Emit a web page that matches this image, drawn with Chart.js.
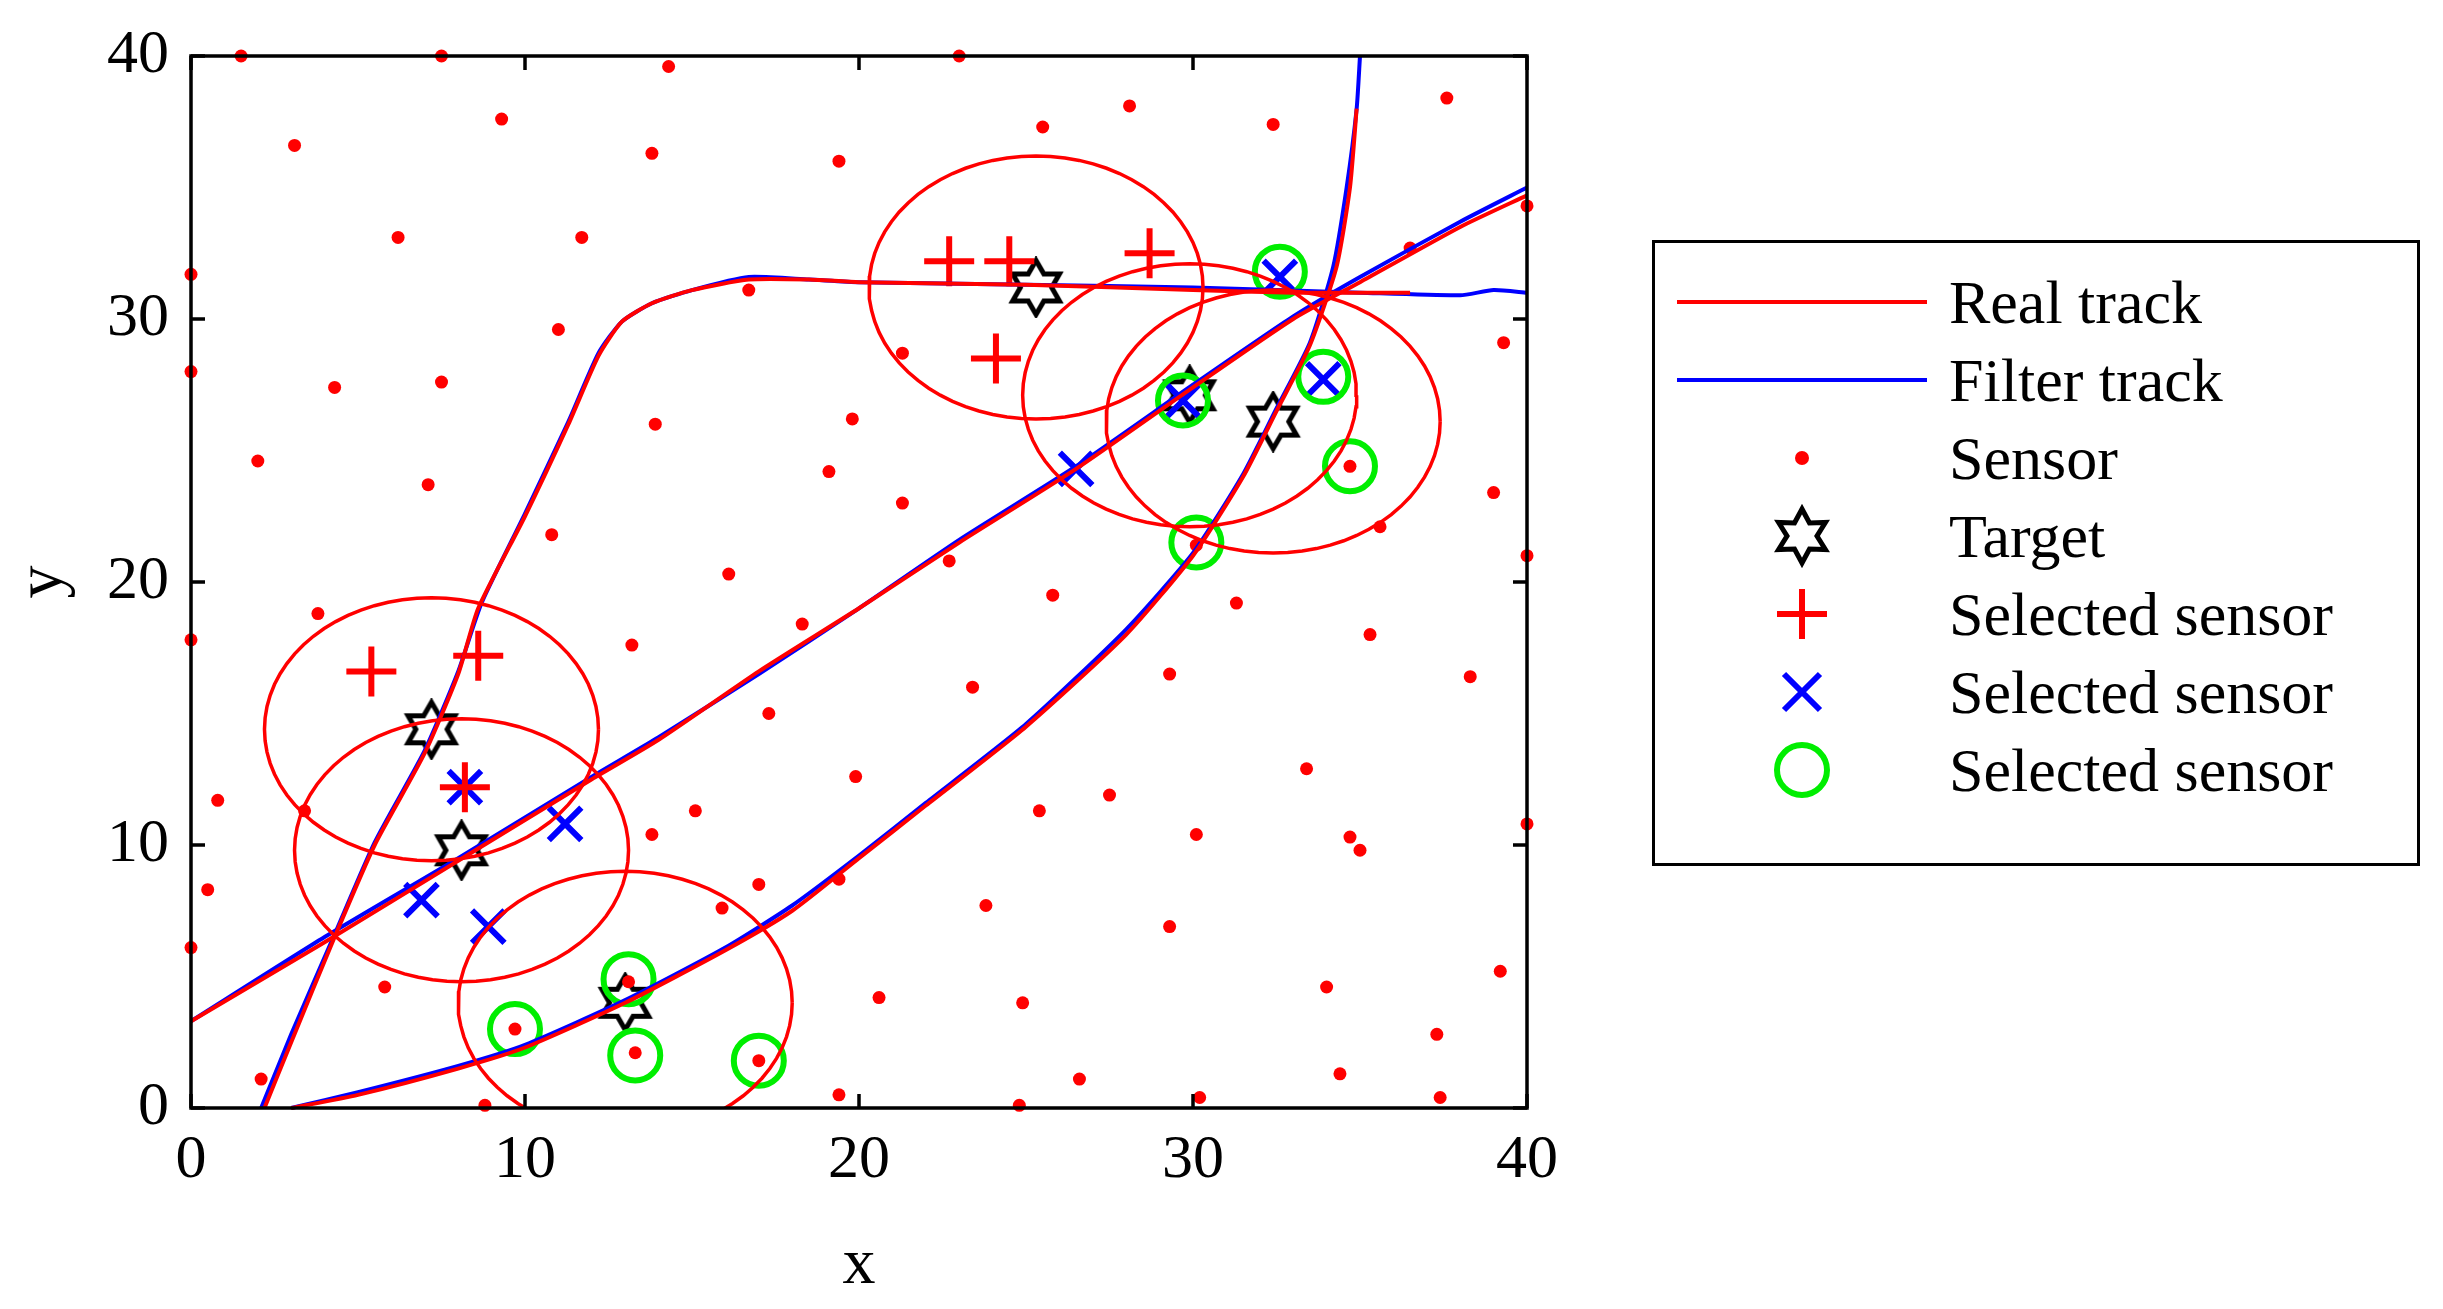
<!DOCTYPE html>
<html>
<head>
<meta charset="utf-8">
<script src="https://cdn.jsdelivr.net/npm/chart.js@4.4.1/dist/chart.umd.min.js"></script>
<style>
  body { margin: 0; background: #fff; font-family: "Liberation Serif", serif; }
  #wrap { position: absolute; left: 0; top: 0; width: 2443px; height: 1309px; }
  #legend { position: absolute; left: 1652px; top: 240px; width: 768px; height: 626px;
            border: 3px solid #000; box-sizing: border-box; padding-top: 20px; }
  .row { display: flex; align-items: center; height: 78px; font-size: 62px; color: #000; }
  .row svg { width: 250px; height: 78px; margin-left: 22px; margin-right: 22px; }
</style>
</head>
<body>
<div id="wrap"><canvas id="c" width="2443" height="1309"></canvas></div>
<div id="legend"></div>
<script>
// sensor positions
const sensorX = [1.5,7.5,23,14.3,9.3,3.1,28.1,25.5,32.4,37.6,19.4,13.8,6.2,11.7,0,40,36.5,0,39.3,11,16.7,7.5,4.3,21.3,13.9,19.8,2,7.1,19.1,21.3,34.7,39,35.6,10.8,30.1,40,16.1,22.7,25.8,31.3,3.8,18.3,0,13.2,35.3,29.3,38.3,23.4,17.3,33.4,19.9,27.5,25.4,15.1,0.8,3.4,13.8,30.1,34.7,35,40,0.5,17,19.4,23.8,15.9,29.3,0,5.8,13.1,34,39.2,20.6,24.9,9.7,13.3,17,37.3,2.1,26.6,34.4,19.4,30.2,37.4,8.8,24.8];
const sensorY = [40,40,40,39.6,37.6,36.6,38.1,37.3,37.4,38.4,36,36.3,33.1,33.1,31.7,34.3,32.7,28,29.1,29.6,31.1,27.6,27.4,28.7,26,26.2,24.6,23.7,24.2,23,24.4,23.4,22.1,21.8,21.4,21,20.3,20.8,19.5,19.2,18.8,18.4,17.8,17.6,18,16.5,16.4,16,15,12.9,12.6,11.9,11.3,11.3,11.7,11.3,10.4,10.4,10.3,9.8,10.8,8.3,8.5,8.7,7.7,7.6,6.9,6.1,4.6,4.8,4.6,5.2,4.2,4,3,2.1,1.8,2.8,1.1,1.1,1.3,0.5,0.4,0.4,0.1,0.1];

const targetX = [7.2,8.1,13,25.3,29.9,32.4];
const targetY = [14.4,9.8,4,31.2,27.1,26.1];
const circleR = 5;

const plusX = [5.4,8.6,8.2,22.7,24.5,28.7,24.1];
const plusY = [16.6,17.2,12.2,32.2,32.2,32.5,28.5];
const crossX = [8.2,11.2,6.9,8.9,26.5,29.7,32.6,33.9];
const crossY = [12.2,10.8,7.9,6.9,24.3,26.9,31.6,27.7];
const ringX = [9.7,13.1,13.3,17,29.7,32.6,33.9,34.7,30.1];
const ringY = [3,4.9,2,1.8,26.9,31.8,27.8,24.4,21.5];

// tracks
const realA = [[2.2,0],[3,2.5],[4.3,6.5],[5.5,10],[7,13.5],[8,16.5],[8.6,19],[10,22.5],[11.3,26],[12.2,28.6],[12.9,29.9],[13.8,30.6],[15,31.1],[16.7,31.5],[18.5,31.5],[20,31.4],[25,31.3],[30,31.1],[33,31],[36.5,31]];
const filtA = [[2.1,0],[3,2.8],[4.3,6.6],[5.5,10.1],[7,13.6],[8,16.6],[8.7,19.2],[10,22.6],[11.3,26.1],[12.2,28.7],[12.9,29.9],[13.8,30.6],[15,31.1],[16.7,31.6],[18.5,31.5],[20,31.4],[25,31.3],[30,31.2],[35,31],[38,30.9],[39,31.1],[40,31]];
const realB = [[0,3.3],[4,6.3],[8,9.4],[12,12.5],[14,14],[17,16.6],[20,19],[23,21.5],[26.5,24.3],[30,27.4],[33,30],[35,31.4],[38,33.5],[40,34.7]];
const filtB = [[0,3.3],[4,6.5],[8,9.5],[12,12.6],[14,14.1],[17,16.5],[20,19],[23,21.6],[26.5,24.4],[30,27.5],[33,30.1],[35,31.6],[38,33.7],[40,35]];
const realC = [[3,0],[5,0.5],[8,1.5],[10,2.3],[13,4],[16,6],[18,7.5],[20,9.5],[22,11.5],[25,14.5],[28,18],[30,21],[31.5,24],[32.5,26.5],[33.5,29],[34.3,32],[34.7,35],[34.9,38]];
const filtC = [[3,0],[5,0.6],[8,1.6],[10,2.4],[13,4.1],[16,6.1],[18,7.7],[20,9.6],[22,11.6],[25,14.6],[28,18.2],[30,21.1],[31.5,24.1],[32.5,26.6],[33.5,29.1],[34.2,32],[34.6,35],[34.9,38],[35,40]];

function pts(arr) { return arr.map(p => ({ x: p[0], y: p[1] })); }
function ring(cx, cy) {
    const out = [];
    for (let i = 0; i <= 72; i++) {
        const a = i / 72 * 2 * Math.PI;
        out.push({ x: cx + circleR * Math.cos(a), y: cy + circleR * Math.sin(a) });
    }
    return out;
}
function xy(xs, ys) { return xs.map((x, i) => ({ x, y: ys[i] })); }

// six-pointed star marker
function hexagram(size) {
    const cv = document.createElement('canvas');
    cv.width = size; cv.height = size;
    const g = cv.getContext('2d');
    const c = size / 2, R = size / 2 - 4, r = R * 0.58;
    g.beginPath();
    for (let i = 0; i < 12; i++) {
        const a = -Math.PI / 2 + i * Math.PI / 6;
        const rr = i % 2 === 0 ? R : r;
        const px = c + rr * Math.cos(a), py = c + rr * Math.sin(a);
        i === 0 ? g.moveTo(px, py) : g.lineTo(px, py);
    }
    g.closePath();
    g.lineWidth = 5; g.strokeStyle = '#000'; g.stroke();
    return cv;
}
const starImg = hexagram(62);

const lineDs = (data, color) => ({ type: 'line', data, borderColor: color, borderWidth: 4, pointRadius: 0, fill: false, tension: 0.2, clip: 2 });

const datasets = [];
targetX.forEach((x, i) => datasets.push({ type: 'line', data: ring(x, targetY[i]), borderColor: '#ff0000', borderWidth: 3.5, pointRadius: 0, fill: false, tension: 0, clip: 0 }));
datasets.push(lineDs(pts(realA), '#ff0000'), lineDs(pts(realB), '#ff0000'), lineDs(pts(realC), '#ff0000'));
datasets.push(lineDs(pts(filtA), '#0000ff'), lineDs(pts(filtB), '#0000ff'), lineDs(pts(filtC), '#0000ff'));
datasets.push({ data: xy(sensorX, sensorY), pointStyle: 'circle', pointRadius: 6.5, backgroundColor: '#ff0000', borderWidth: 0, clip: false });
datasets.push({ data: xy(ringX, ringY), pointStyle: 'circle', pointRadius: 25, backgroundColor: 'transparent', borderColor: '#00ee00', borderWidth: 6, clip: false });
datasets.push({ data: xy(plusX, plusY), pointStyle: 'cross', pointRadius: 25, borderColor: '#ff0000', borderWidth: 6 });
datasets.push({ data: xy(crossX, crossY), pointStyle: 'crossRot', pointRadius: 23, borderColor: '#0000ff', borderWidth: 6 });
datasets.push({ data: xy(targetX, targetY), pointStyle: starImg, pointRadius: 31 });

const frame = {
    id: 'frame',
    afterDraw(chart) {
        const { ctx, chartArea: a, scales } = chart;
        ctx.save();
        ctx.strokeStyle = '#000'; ctx.lineWidth = 3.5;
        ctx.strokeRect(a.left, a.top, a.right - a.left, a.bottom - a.top);
        const t = 14;
        scales.x.ticks.forEach(tk => {
            const p = scales.x.getPixelForValue(tk.value);
            ctx.beginPath(); ctx.moveTo(p, a.bottom); ctx.lineTo(p, a.bottom - t);
            ctx.moveTo(p, a.top); ctx.lineTo(p, a.top + t); ctx.stroke();
        });
        scales.y.ticks.forEach(tk => {
            const p = scales.y.getPixelForValue(tk.value);
            ctx.beginPath(); ctx.moveTo(a.left, p); ctx.lineTo(a.left + t, p);
            ctx.moveTo(a.right, p); ctx.lineTo(a.right - t, p); ctx.stroke();
        });
        ctx.restore();
    }
};

const font = { family: '"Liberation Serif", serif', size: 62 };
new Chart(document.getElementById('c'), {
    type: 'scatter',
    data: { datasets },
    options: {
        responsive: false,
        animation: false,
        layout: { padding: { left: 0, right: 916, top: 56, bottom: 0 } },
        plugins: { legend: { display: false }, tooltip: { enabled: false } },
        scales: {
            x: {
                min: 0, max: 40,
                ticks: { stepSize: 10, color: '#000', font, padding: 8 },
                grid: { display: false }, border: { display: false },
                title: { display: true, text: 'x', color: '#000', font: { ...font, size: 66 }, padding: { top: 0 } },
                afterFit: s => { s.height = 201; }
            },
            y: {
                min: 0, max: 40,
                ticks: { stepSize: 10, color: '#000', font, padding: 14 },
                grid: { display: false }, border: { display: false },
                title: { display: true, text: 'y', color: '#000', font: { ...font, size: 66 }, padding: { bottom: 0 } },
                afterFit: s => { s.width = 191; }
            }
        }
    },
    plugins: [frame]
});

// legend
const legendItems = [
    ['Real track', '<line x1="0" y1="39" x2="250" y2="39" stroke="#ff0000" stroke-width="4"/>'],
    ['Filter track', '<line x1="0" y1="39" x2="250" y2="39" stroke="#0000ff" stroke-width="4"/>'],
    ['Sensor', '<circle cx="125" cy="39" r="7" fill="#ff0000"/>'],
    ['Target', '<polygon points="' + (() => { const p = []; for (let i = 0; i < 12; i++) { const a = -Math.PI / 2 + i * Math.PI / 6, rr = i % 2 ? 15 : 27; p.push((125 + rr * Math.cos(a)).toFixed(1) + ',' + (39 + rr * Math.sin(a)).toFixed(1)); } return p.join(' '); })() + '" fill="none" stroke="#000" stroke-width="5"/>'],
    ['Selected sensor', '<path d="M125 14 V64 M100 39 H150" stroke="#ff0000" stroke-width="6"/>'],
    ['Selected sensor', '<path d="M107 21 L143 57 M143 21 L107 57" stroke="#0000ff" stroke-width="6"/>'],
    ['Selected sensor', '<circle cx="125" cy="39" r="25" fill="none" stroke="#00ee00" stroke-width="6"/>']
];
document.getElementById('legend').innerHTML = legendItems.map(it =>
    `<div class="row"><svg viewBox="0 0 250 78">${it[1]}</svg><span>${it[0]}</span></div>`).join('');
</script>
</body>
</html>
